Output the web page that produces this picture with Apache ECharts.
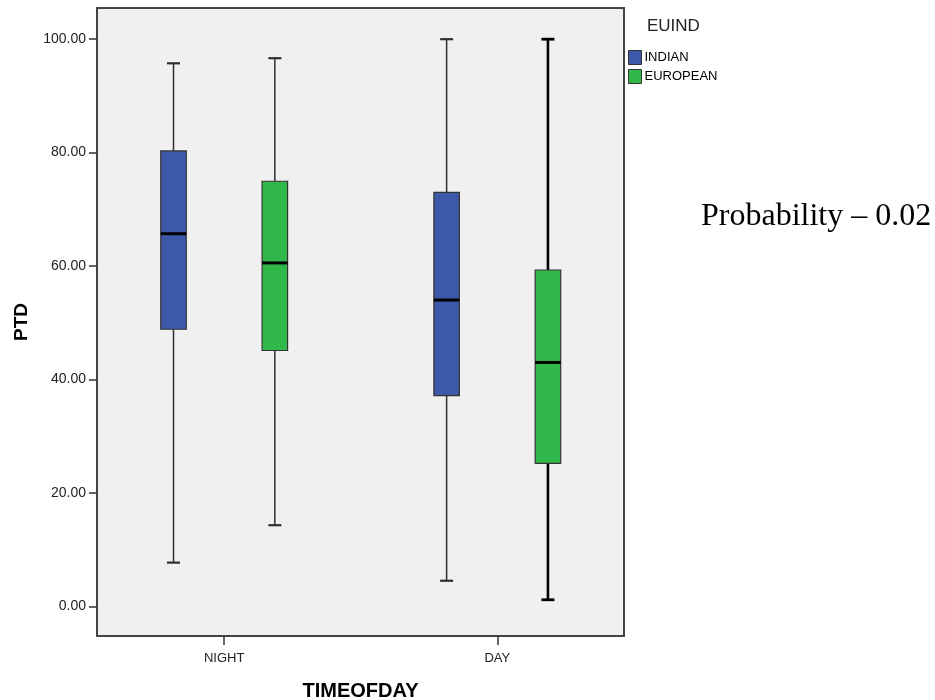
<!DOCTYPE html>
<html>
<head>
<meta charset="utf-8">
<title>PTD by TIMEOFDAY and EUIND</title>
<script src="https://cdn.jsdelivr.net/npm/echarts@6/dist/echarts.min.js"></script>
<style>
  html, body { margin: 0; padding: 0; background: #ffffff; }
  #chart { width: 935px; height: 700px; }
</style>
</head>
<body>
<div id="chart"></div>
<script>
// Categories and group names
const timeOfDay = ['NIGHT', 'DAY'];
const groups = ['INDIAN', 'EUROPEAN'];
const yTicks = [0, 20, 40, 60, 80, 100];

// Five-number summaries of PTD, one entry per time of day
const indianMin    = [7.7, 4.5];
const indianQ1     = [48.85, 37.15];
const indianMedian = [65.7, 54.0];
const indianQ3     = [80.3, 73.0];
const indianMax    = [95.75, 100.0];

const europeanMin    = [14.3, 1.15];
const europeanQ1     = [45.1, 25.2];
const europeanMedian = [60.55, 43.0];
const europeanQ3     = [74.95, 59.3];
const europeanMax    = [96.65, 100.0];

// Layout and styling
const FONT = "'Liberation Sans', Arial, sans-serif";
const BLUE = '#3d57a9';
const GREEN = '#30b94a';
const BOX_HALF = 12.75;      // px
const CAP_HALF = 6.5;        // px
const GROUP_SHIFT = 0.1855;  // axis units between a group centre and its box
const indianWhisker = [1.5, 1.5];
const europeanWhisker = [1.5, 2.6];

function buildRows(mins, q1s, meds, q3s, maxs) {
  return timeOfDay.map((_, i) => [i, mins[i], q1s[i], meds[i], q3s[i], maxs[i]]);
}

function makeBoxRenderer(shift, fill, whiskerWidths) {
  return function (params, api) {
    const xv = api.value(0) + shift;
    const pMin = api.coord([xv, api.value(1)]);
    const pQ1 = api.coord([xv, api.value(2)]);
    const pMed = api.coord([xv, api.value(3)]);
    const pQ3 = api.coord([xv, api.value(4)]);
    const pMax = api.coord([xv, api.value(5)]);
    const cx = pMed[0];
    const ww = whiskerWidths[params.dataIndex];
    const wColor = ww > 2 ? '#000000' : '#2e2e2e';
    const capW = ww > 2 ? 2.8 : 2.2;
    return {
      type: 'group',
      children: [
        { type: 'line', shape: { x1: cx, y1: pMax[1], x2: cx, y2: pQ3[1] },
          style: { stroke: wColor, lineWidth: ww } },
        { type: 'line', shape: { x1: cx, y1: pQ1[1], x2: cx, y2: pMin[1] },
          style: { stroke: wColor, lineWidth: ww } },
        { type: 'line', shape: { x1: cx - CAP_HALF, y1: pMax[1], x2: cx + CAP_HALF, y2: pMax[1] },
          style: { stroke: wColor, lineWidth: capW } },
        { type: 'line', shape: { x1: cx - CAP_HALF, y1: pMin[1], x2: cx + CAP_HALF, y2: pMin[1] },
          style: { stroke: wColor, lineWidth: capW } },
        { type: 'rect',
          shape: { x: cx - BOX_HALF, y: pQ3[1], width: BOX_HALF * 2, height: pQ1[1] - pQ3[1] },
          style: { fill: fill, stroke: '#333333', lineWidth: 1.2 } },
        { type: 'line', shape: { x1: cx - BOX_HALF, y1: pMed[1], x2: cx + BOX_HALF, y2: pMed[1] },
          style: { stroke: '#000000', lineWidth: 3 } }
      ]
    };
  };
}

const chart = echarts.init(document.getElementById('chart'), null, { renderer: 'canvas' });

chart.setOption({
  backgroundColor: '#ffffff',
  animation: false,
  textStyle: { fontFamily: FONT },
  title: [
    { text: 'EUIND', left: 647, top: 18, padding: 0,
      textStyle: { fontFamily: FONT, fontSize: 17, fontWeight: 'normal', color: '#222222' } },
    { text: 'Probability – 0.02', left: 701, top: 201, padding: 0,
      textStyle: { fontFamily: "'Liberation Serif', 'Times New Roman', serif", fontSize: 32,
                   fontWeight: 'normal', color: '#000000' } }
  ],
  legend: {
    data: groups,
    orient: 'vertical',
    left: 628,
    top: 50,
    padding: 0,
    itemWidth: 13,
    itemHeight: 14,
    itemGap: 4,
    icon: 'rect',
    selectedMode: false,
    itemStyle: { borderColor: '#333333', borderWidth: 1 },
    textStyle: { fontFamily: FONT, fontSize: 13, color: '#000000', padding: [0, 0, 0, -2] }
  },
  grid: {
    left: 97, top: 8, width: 527, height: 628,
    outerBoundsMode: 'none',
    containLabel: false,
    show: true,
    backgroundColor: '#f0f0f0',
    borderColor: '#444444',
    borderWidth: 2
  },
  xAxis: {
    type: 'value',
    min: -0.4657,
    max: 1.464,
    splitLine: { show: false },
    axisLine: { show: true, onZero: false, lineStyle: { color: '#444444', width: 2 } },
    axisTick: {
      show: true,
      customValues: timeOfDay.map((_, i) => i),
      length: 9,
      lineStyle: { color: '#333333', width: 1.5 }
    },
    axisLabel: {
      customValues: timeOfDay.map((_, i) => i),
      formatter: v => timeOfDay[Math.round(v)],
      margin: 16,
      fontFamily: FONT,
      fontSize: 13,
      color: '#222222'
    },
    name: 'TIMEOFDAY',
    nameLocation: 'middle',
    nameGap: 45,
    nameTextStyle: { fontFamily: FONT, fontSize: 20, fontWeight: 'bold', color: '#000000' }
  },
  yAxis: {
    type: 'value',
    min: -5.24,
    max: 105.5,
    splitLine: { show: false },
    axisLine: { show: true, onZero: false, lineStyle: { color: '#444444', width: 2 } },
    axisTick: {
      show: true,
      customValues: yTicks,
      length: 8,
      lineStyle: { color: '#333333', width: 1.5 }
    },
    axisLabel: {
      customValues: yTicks,
      formatter: v => v.toFixed(2),
      margin: 11,
      fontFamily: FONT,
      fontSize: 14,
      color: '#222222'
    },
    name: 'PTD',
    nameLocation: 'middle',
    nameRotate: 90,
    nameGap: 66,
    nameTextStyle: { fontFamily: FONT, fontSize: 19, fontWeight: 'bold', color: '#000000' }
  },
  series: [
    {
      name: 'INDIAN',
      type: 'custom',
      itemStyle: { color: BLUE },
      encode: { x: 0, y: [1, 2, 3, 4, 5] },
      renderItem: makeBoxRenderer(-GROUP_SHIFT, BLUE, indianWhisker),
      data: buildRows(indianMin, indianQ1, indianMedian, indianQ3, indianMax)
    },
    {
      name: 'EUROPEAN',
      type: 'custom',
      itemStyle: { color: GREEN },
      encode: { x: 0, y: [1, 2, 3, 4, 5] },
      renderItem: makeBoxRenderer(GROUP_SHIFT, GREEN, europeanWhisker),
      data: buildRows(europeanMin, europeanQ1, europeanMedian, europeanQ3, europeanMax)
    }
  ]
});
</script>
</body>
</html>
